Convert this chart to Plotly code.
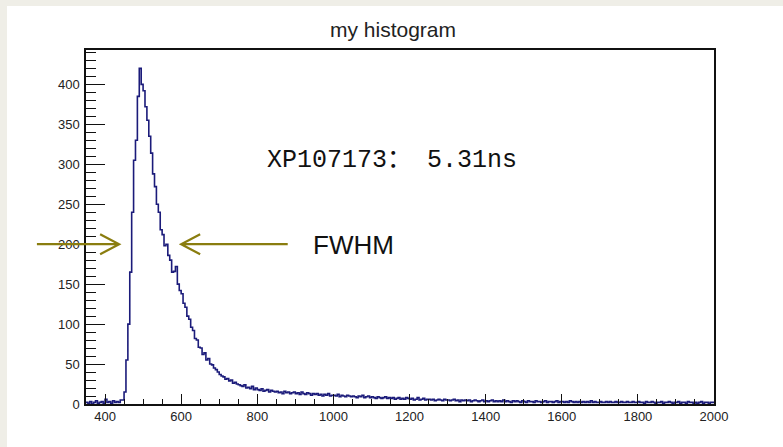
import numpy as np
import plotly.graph_objects as go

# ---------------- data ----------------
title_text = "my histogram"
bin_start = 350
bin_width = 5
x_range = [350, 2000]
y_range = [0, 443]

counts = [
    2, 1, 3, 0, 2, 4, 1, 2, 3, 1,            # 350
    6, 2, 3, 1, 4, 2, 3, 2, 5, 5,            # 400
    15, 55, 100, 165, 240, 305, 330, 385, 420, 400,   # 450
    392, 372, 355, 335, 314, 288, 272, 250, 240, 218, # 500
    212, 198, 200, 186, 180, 165, 166, 172, 150, 142, # 550
    138, 126, 121, 110, 106, 96, 92, 82, 80, 71,      # 600
    70, 62, 64, 55, 57, 50, 49, 45, 43, 40,           # 650
    37, 35, 34, 31, 32, 29, 30, 26, 27, 25,           # 700
    24, 23, 22, 24, 20, 21, 19, 22, 18, 20,           # 750
    18, 17, 19, 16, 17, 18, 15, 17, 16, 15,           # 800
    16, 14, 15, 13, 16, 14, 15, 13, 14, 15,           # 850
    13, 14, 12, 15, 13, 12, 14, 13, 11, 13,           # 900
    12, 13, 11, 12, 10, 12, 11, 13, 10, 11,           # 950
    11, 10, 12, 9, 11, 10, 9, 11, 10, 9,              # 1000
    10, 9, 8, 10, 9, 11, 8, 9, 10, 8,                 # 1050
    9, 8, 7, 9, 8, 7, 8, 9, 7, 8,                     # 1100
    7, 8, 6, 7, 8, 6, 7, 6, 8, 7,                     # 1150
    6, 7, 5, 6, 8, 5, 6, 7, 5, 6,                     # 1200
    6, 5, 6, 4, 5, 6, 5, 4, 6, 5,                     # 1250
    5, 4, 5, 6, 4, 5, 3, 5, 4, 5,                     # 1300
    4, 5, 3, 4, 5, 4, 3, 4, 5, 3,                     # 1350
    4, 3, 4, 5, 3, 4, 3, 4, 3, 5,                     # 1400
    3, 4, 3, 2, 4, 3, 4, 3, 2, 4,                     # 1450
    3, 2, 4, 3, 3, 2, 4, 3, 3, 2,                     # 1500
    3, 4, 2, 3, 3, 2, 3, 4, 2, 3,                     # 1550
    3, 2, 3, 2, 4, 3, 2, 3, 2, 3,                     # 1600
    2, 3, 2, 3, 2, 4, 2, 3, 2, 2,                     # 1650
    3, 2, 2, 3, 2, 3, 2, 2, 3, 2,                     # 1700
    2, 3, 2, 2, 3, 2, 2, 3, 2, 2,                     # 1750
    3, 2, 2, 1, 3, 2, 2, 3, 2, 1,                     # 1800
    2, 2, 3, 1, 2, 2, 3, 2, 1, 2,                     # 1850
    2, 3, 1, 2, 2, 1, 3, 2, 2, 1,                     # 1900
    2, 1, 2, 3, 1, 2, 2, 1, 2, 2,                     # 1950
]

label_text = "XP107173： 5.31ns"
fwhm_text = "FWHM"
fwhm_level = 200          # height of the FWHM arrows (counts)
fwhm_left_tip = 437       # x where left arrow points
fwhm_right_tip = 600      # x where right arrow points
fwhm_left_tail = 221
fwhm_right_tail = 880

# ---------------- layout geometry ----------------
W, H = 783, 447
ML, MR, MT, MB = 86, 69, 50, 43
PW, PH = W - ML - MR, H - MT - MB

edges = bin_start + bin_width * np.arange(len(counts) + 1)
xs = edges
ys = list(counts) + [counts[-1]]

def px(xv):
    return (xv - x_range[0]) / (x_range[1] - x_range[0])

def py(yv):
    return (yv - y_range[0]) / (y_range[1] - y_range[0])

fig = go.Figure()
fig.add_trace(go.Scatter(
    x=xs, y=ys, mode="lines", line=dict(color="#1b1b7a", width=1.6, shape="hv"),
    hoverinfo="skip", showlegend=False,
))

arrow_col = "#8a7d0f"
yl = py(fwhm_level)
ax_dx = 19 / PW
ax_dy = 10 / PH

def arrow_path(tail, tip, direction):
    t = px(tail); p = px(tip)
    b = p - direction * ax_dx
    return (f"M {t},{yl} L {p},{yl} M {b},{yl+ax_dy} L {p},{yl} L {b},{yl-ax_dy}")

shapes = [
    # beige slide border
    dict(type="rect", xref="paper", yref="paper", x0=-ML/PW, x1=(7-ML)/PW,
         y0=-MB/PH, y1=1+MT/PH, fillcolor="#efeee7", line=dict(width=0), layer="below"),
    dict(type="rect", xref="paper", yref="paper", x0=-ML/PW, x1=1+MR/PW,
         y0=1+(MT-6)/PH, y1=1+MT/PH, fillcolor="#efeee7", line=dict(width=0), layer="below"),
    dict(type="path", xref="paper", yref="paper",
         path=arrow_path(fwhm_left_tail, fwhm_left_tip, 1),
         line=dict(color=arrow_col, width=2.2)),
    dict(type="path", xref="paper", yref="paper",
         path=arrow_path(fwhm_right_tail, fwhm_right_tip, -1),
         line=dict(color=arrow_col, width=2.2)),
]

annotations = [
    dict(text=label_text, xref="paper", yref="y", x=px(820), y=305,
         xanchor="left", yanchor="middle", showarrow=False,
         font=dict(family="Liberation Mono, DejaVu Sans Mono, Noto Sans CJK SC", size=25, color="#111")),
    dict(text=fwhm_text, xref="paper", yref="y", x=px(940), y=199,
         xanchor="left", yanchor="middle", showarrow=False,
         font=dict(family="Liberation Sans, Arial", size=26, color="#111")),
]

tickfont = dict(family="Liberation Sans, Arial", size=13, color="#222")

fig.update_layout(
    width=W, height=H, autosize=False,
    margin=dict(l=ML, r=MR, t=MT, b=MB, pad=0),
    paper_bgcolor="white", plot_bgcolor="white",
    title=dict(text=title_text, x=(393 - ML) / PW, xref="paper",
               xanchor="center", y=1 - 30 / H, yref="container", yanchor="middle",
               font=dict(family="Liberation Sans, Arial", size=21, color="#222")),
    shapes=shapes, annotations=annotations,
    xaxis=dict(range=x_range, showgrid=False, zeroline=False,
               showline=True, linecolor="#111", linewidth=1.5, mirror=True,
               ticks="inside", ticklen=10, tickwidth=1.2, tickcolor="#111",
               tick0=400, dtick=200, tickfont=tickfont,
               minor=dict(ticks="inside", ticklen=5, tickwidth=1, tickcolor="#111", dtick=50, tick0=350)),
    yaxis=dict(range=y_range, showgrid=False, zeroline=False,
               showline=True, linecolor="#111", linewidth=1.5, mirror=True,
               ticks="inside", ticklen=19, tickwidth=1.2, tickcolor="#111",
               tick0=0, dtick=50, tickfont=tickfont, ticklabelstandoff=2,
               minor=dict(ticks="inside", ticklen=10, tickwidth=1, tickcolor="#111", dtick=10, tick0=0)),
)

fig.write_html("out.html")
